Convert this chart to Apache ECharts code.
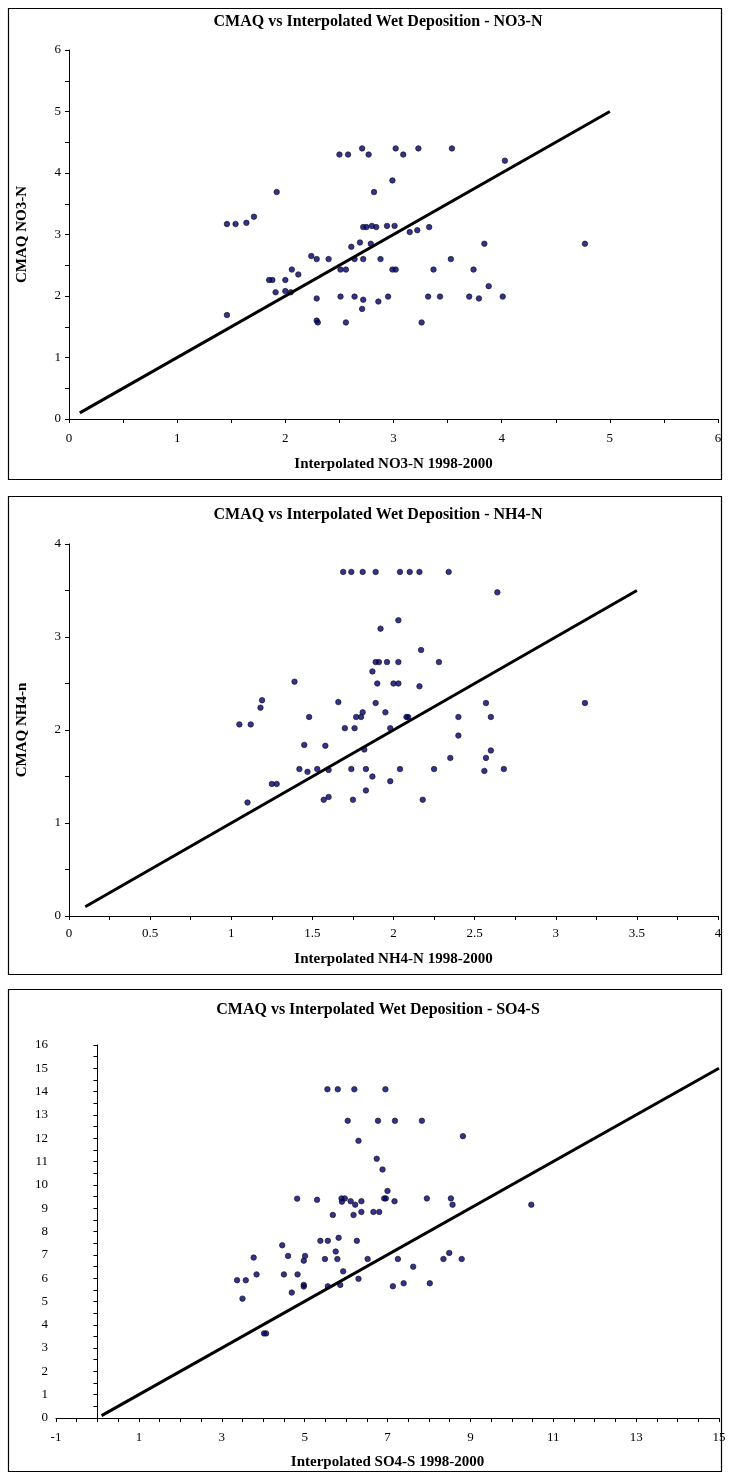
<!DOCTYPE html>
<html>
<head>
<meta charset="utf-8">
<script src="https://cdn.jsdelivr.net/npm/echarts@6/dist/echarts.min.js"></script>
<style>
  html, body { margin: 0; padding: 0; background: #fff; }
  #chart-container { width: 730px; height: 1479px; }
</style>
</head>
<body>
<div id="chart-container"></div>
<script>
// NO3-N panel
var no3X = [1.92, 1.46, 1.54, 1.64, 1.71, 2.24, 2.29, 2.40, 2.06, 2.12, 1.85, 1.88, 2.00, 1.91, 2.00, 2.05, 2.29, 1.46, 2.29, 2.30,
            2.50, 2.58, 2.71, 2.77, 3.02, 3.09, 3.23, 3.54, 4.03, 2.99, 2.82, 2.72, 2.75, 2.80, 2.84, 2.94, 3.01, 3.15, 3.22, 3.33,
            2.61, 2.69, 2.79, 3.84, 2.64, 2.72, 2.88, 3.53, 2.51, 2.56, 2.99, 3.02, 3.37, 3.74, 3.88, 2.51, 2.64, 2.72, 2.71, 2.86,
            2.95, 3.32, 3.43, 3.70, 3.79, 4.01, 2.56, 3.26, 4.77];
var no3Y = [3.69, 3.17, 3.17, 3.19, 3.29, 2.65, 2.60, 2.60, 2.43, 2.35, 2.26, 2.26, 2.26, 2.06, 2.08, 2.06, 1.96, 1.69, 1.60, 1.57,
            4.30, 4.30, 4.40, 4.30, 4.40, 4.30, 4.40, 4.40, 4.20, 3.88, 3.69, 3.12, 3.12, 3.14, 3.12, 3.14, 3.14, 3.04, 3.07, 3.12,
            2.80, 2.87, 2.85, 2.85, 2.60, 2.60, 2.60, 2.60, 2.43, 2.43, 2.43, 2.43, 2.43, 2.43, 2.16, 1.99, 1.99, 1.94, 1.79, 1.91,
            1.99, 1.99, 1.99, 1.99, 1.96, 1.99, 1.57, 1.57, 2.85];
var no3Line = [[0.1, 0.1], [5, 5]];

// NH4-N panel
var nh4X = [1.69, 1.74, 1.81, 1.89, 2.04, 2.10, 2.16, 2.34, 2.64, 2.03, 1.92, 1.89, 1.91, 1.96, 2.03, 2.28, 1.87, 2.17, 1.90, 2.00,
            2.03, 1.39, 2.16, 1.19, 1.18, 1.66, 1.89, 2.57, 3.18, 1.81, 1.95, 1.77, 1.80, 2.08, 2.09, 1.48, 2.40, 2.60, 1.05, 1.12,
            1.70, 1.76, 1.98, 2.40, 1.45, 1.58, 1.82, 2.60, 2.35, 2.57, 1.42, 1.47, 1.53, 1.60, 1.74, 1.83, 2.04, 2.25, 2.56, 2.68,
            1.87, 1.98, 1.25, 1.28, 1.83, 1.10, 1.57, 1.60, 1.75, 2.18];
var nh4Y = [3.70, 3.70, 3.70, 3.70, 3.70, 3.70, 3.70, 3.70, 3.48, 3.18, 3.09, 2.73, 2.73, 2.73, 2.73, 2.73, 2.63, 2.86, 2.50, 2.50,
            2.50, 2.52, 2.47, 2.32, 2.24, 2.30, 2.29, 2.29, 2.29, 2.19, 2.19, 2.14, 2.14, 2.14, 2.14, 2.14, 2.14, 2.14, 2.06, 2.06,
            2.02, 2.02, 2.02, 1.94, 1.84, 1.83, 1.79, 1.78, 1.70, 1.70, 1.58, 1.55, 1.58, 1.57, 1.58, 1.58, 1.58, 1.58, 1.56, 1.58,
            1.50, 1.45, 1.42, 1.42, 1.35, 1.22, 1.25, 1.28, 1.25, 1.25];
var nh4Line = [[0.1, 0.1], [3.5, 3.5]];

// SO4-S panel
var so4X = [5.55, 5.80, 6.20, 6.95, 6.04, 6.77, 7.18, 7.83, 6.30, 8.82, 6.74, 6.88, 7.00, 4.82, 5.30, 5.89, 5.97, 5.90, 6.11, 6.22,
            6.37, 6.92, 6.96, 7.17, 7.95, 8.53, 8.57, 10.47, 5.68, 6.18, 6.37, 6.66, 6.80, 5.38, 5.56, 5.82, 6.26, 4.46, 3.77, 4.60,
            5.01, 4.98, 5.49, 5.75, 5.79, 6.52, 7.25, 8.35, 8.49, 8.79, 7.62, 3.37, 3.58, 3.84, 4.50, 4.83, 5.93, 3.50, 4.69, 4.98,
            4.98, 5.56, 5.86, 6.30, 7.13, 7.39, 8.02, 4.02, 4.07];
var so4Y = [14.1, 14.1, 14.1, 14.1, 12.75, 12.75, 12.75, 12.75, 11.89, 12.09, 11.12, 10.66, 9.74, 9.41, 9.36, 9.42, 9.42, 9.28, 9.30, 9.15,
            9.30, 9.42, 9.42, 9.30, 9.42, 9.42, 9.15, 9.15, 8.71, 8.71, 8.84, 8.84, 8.84, 7.60, 7.60, 7.73, 7.60, 7.41, 6.88, 6.95,
            6.95, 6.75, 6.82, 7.14, 6.82, 6.82, 6.82, 6.82, 7.08, 6.82, 6.49, 5.91, 5.91, 6.16, 6.16, 6.16, 6.29, 5.12, 5.38, 5.71,
            5.64, 5.65, 5.71, 5.97, 5.65, 5.78, 5.78, 3.63, 3.63];
var so4Line = [[0.1, 0.1], [15, 15]];

var titles = [
    'CMAQ vs Interpolated Wet Deposition - NO3-N',
    'CMAQ vs Interpolated Wet Deposition - NH4-N',
    'CMAQ vs Interpolated Wet Deposition - SO4-S'
];
var xNames = ['Interpolated NO3-N 1998-2000', 'Interpolated NH4-N 1998-2000', 'Interpolated SO4-S 1998-2000'];
var yNames = ['CMAQ NO3-N', 'CMAQ NH4-n', 'CMAQ SO4-S'];

var FONT = '"Liberation Serif", "Times New Roman", serif';

function pairs(xs, ys) {
    return xs.map(function (x, i) { return [x, ys[i]]; });
}

function axis(idx, opts) {
    return {
        gridIndex: idx,
        type: 'value',
        min: opts.min,
        max: opts.max,
        interval: opts.interval,
        name: opts.name,
        nameLocation: 'middle',
        nameGap: opts.nameGap,
        nameRotate: opts.rotate || 0,
        nameTextStyle: { fontFamily: FONT, fontWeight: 'bold', fontSize: 15, color: '#000' },
        axisLine: { show: true, onZero: true, lineStyle: { color: '#000', width: 1 } },
        axisTick: { show: true, inside: false, length: 4, lineStyle: { color: '#000' } },
        minorTick: { show: true, splitNumber: 2, length: 4, lineStyle: { color: '#000' } },
        splitLine: { show: false },
        axisLabel: {
            fontFamily: FONT, fontSize: 13, color: '#000', margin: opts.margin || 8,
            formatter: opts.fmt || function (v) { return v; }
        }
    };
}

var dotStyle = { color: '#000070', borderColor: '#111', borderWidth: 0.8 };

function scatter(idx, data) {
    return {
        type: 'scatter', xAxisIndex: idx, yAxisIndex: idx, data: data,
        symbol: 'circle', symbolSize: 5.5, itemStyle: dotStyle, silent: true
    };
}
function oneToOne(idx, data) {
    return {
        type: 'line', xAxisIndex: idx, yAxisIndex: idx, data: data,
        showSymbol: false, silent: true, lineStyle: { color: '#000', width: 3 }
    };
}

var dom = document.getElementById('chart-container');
var myChart = echarts.init(dom, null, { renderer: 'canvas' });

var boxStyle = { fill: 'none', stroke: '#000', lineWidth: 1.2 };

var option = {
    animation: false,
    backgroundColor: '#fff',
    title: titles.map(function (t, i) {
        return {
            text: t, left: 373, top: [9, 502, 997][i], textAlign: 'center',
            textStyle: { fontFamily: FONT, fontWeight: 'bold', fontSize: 16, color: '#000' }
        };
    }),
    graphic: [
        { type: 'rect', shape: { x: 8.5, y: 8.5, width: 713, height: 471 }, style: boxStyle },
        { type: 'rect', shape: { x: 8.5, y: 496.5, width: 713, height: 478 }, style: boxStyle },
        { type: 'rect', shape: { x: 8.5, y: 989.5, width: 713, height: 482 }, style: boxStyle }
    ],
    grid: [
        { left: 69, top: 50, width: 649, height: 369, containLabel: false, outerBoundsMode: 'none' },
        { left: 69, top: 544, width: 649, height: 372, containLabel: false, outerBoundsMode: 'none' },
        { left: 56, top: 1045, width: 663, height: 373, containLabel: false, outerBoundsMode: 'none' }
    ],
    xAxis: [
        axis(0, { min: 0, max: 6, interval: 1, name: xNames[0], nameGap: 38, margin: 13 }),
        axis(1, { min: 0, max: 4, interval: 0.5, name: xNames[1], nameGap: 36, margin: 11 }),
        axis(2, { min: -1, max: 15, interval: 1, name: xNames[2], nameGap: 37, margin: 13,
                  fmt: function (v) { return Math.abs(v % 2) === 1 ? v : ''; } })
    ],
    yAxis: [
        axis(0, { min: 0, max: 6, interval: 1, name: yNames[0], nameGap: 39, rotate: 90 }),
        axis(1, { min: 0, max: 4, interval: 1, name: yNames[1], nameGap: 39, rotate: 90 }),
        axis(2, { min: 0, max: 16, interval: 1, name: yNames[2], nameGap: 68, rotate: 90 })
    ],
    series: [
        oneToOne(0, no3Line), scatter(0, pairs(no3X, no3Y)),
        oneToOne(1, nh4Line), scatter(1, pairs(nh4X, nh4Y)),
        oneToOne(2, so4Line), scatter(2, pairs(so4X, so4Y))
    ]
};

myChart.setOption(option);
window.addEventListener('resize', myChart.resize);
</script>
</body>
</html>
